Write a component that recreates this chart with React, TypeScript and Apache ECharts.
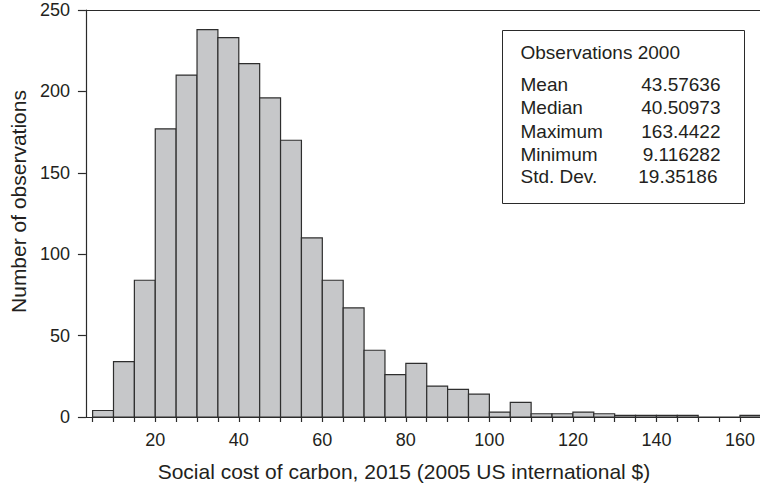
import React, { useEffect, useRef } from "react";
import * as echarts from "echarts";

const binStarts = [5, 10, 15, 20, 25, 30, 35, 40, 45, 50, 55, 60, 65, 70, 75, 80, 85, 90, 95, 100, 105, 110, 115, 120, 125, 130, 135, 140, 145, 150, 155, 160];
const counts = [4, 34, 84, 177, 210, 238, 233, 217, 196, 170, 110, 84, 67, 41, 26, 33, 19, 17, 14, 3, 9, 2, 2, 3, 2, 1, 1, 1, 1, 0, 0, 1];
const binWidth = 5;
const xTickValues = [5, 10, 15, 20, 25, 30, 35, 40, 45, 50, 55, 60, 65, 70, 75, 80, 85, 90, 95, 100, 105, 110, 115, 120, 125, 130, 135, 140, 145, 150, 155, 160];
const xLabelValues = [20, 40, 60, 80, 100, 120, 140, 160];
const statLabels = ["Mean", "Median", "Maximum", "Minimum", "Std. Dev."];
const statValues = ["43.57636", "40.50973", "163.4422", "9.116282", "19.35186"];
const observationsText = "Observations 2000";

const TEXT = "#231f20";
const LINE = "#2a2a2a";
const FONT = "'Liberation Sans', Arial, sans-serif";

export default function App() {
  const ref = useRef<HTMLDivElement>(null);
  useEffect(() => {
    if (!ref.current) return;
    const chart = echarts.init(ref.current, undefined, { renderer: "svg" });
    const data = binStarts.map((s, i) => [s, s + binWidth, counts[i]]);
    const rowYs = [84, 107.3, 131, 154, 176.7];
    const graphicEls: any[] = [
      {
        type: "rect",
        shape: { x: 502.5, y: 30.5, width: 242, height: 173 },
        style: { fill: "#fff", stroke: LINE, lineWidth: 1 },
        z: 10,
      },
      {
        type: "text",
        x: 520.5,
        y: 52.5,
        style: { text: observationsText, fill: TEXT, font: `19px ${FONT}`, textVerticalAlign: "middle", textAlign: "left" },
        z: 11,
      },
    ];
    statLabels.forEach((lab, i) => {
      graphicEls.push({
        type: "text",
        x: 520.5,
        y: rowYs[i],
        style: { text: lab, fill: TEXT, font: `19px ${FONT}`, textVerticalAlign: "middle", textAlign: "left" },
        z: 11,
      });
      graphicEls.push({
        type: "text",
        x: i === 4 ? 717.5 : 720.5,
        y: rowYs[i],
        style: { text: statValues[i], fill: TEXT, font: `19px ${FONT}`, textVerticalAlign: "middle", textAlign: "right" },
        z: 11,
      });
    });
    chart.setOption({
      animation: false,
      backgroundColor: "#fff",
      grid: { left: 82, right: 0, top: 10, bottom: 67.3, containLabel: false },
      xAxis: [
        {
          type: "value",
          min: 3.4,
          max: 164.8,
          position: "bottom",
          name: "Social cost of carbon, 2015 (2005 US international $)",
          nameLocation: "middle",
          nameGap: 44,
          nameTextStyle: { color: TEXT, fontSize: 21, fontFamily: FONT, padding: [0, 38, 0, 0] },
          axisLine: { show: true, lineStyle: { color: LINE, width: 1.2 } },
          axisTick: { show: true, length: 5, customValues: xTickValues, lineStyle: { color: LINE, width: 1.2 } },
          axisLabel: { show: true, customValues: xLabelValues, margin: 14, color: TEXT, fontSize: 18, fontFamily: FONT },
          splitLine: { show: false },
        },
        {
          type: "value",
          min: 3.4,
          max: 164.8,
          position: "top",
          axisLine: { show: true, lineStyle: { color: LINE, width: 1.2 } },
          axisTick: { show: false },
          axisLabel: { show: false },
          splitLine: { show: false },
        },
      ],
      yAxis: {
        type: "value",
        min: 0,
        max: 250,
        interval: 50,
        name: "Number of observations",
        nameLocation: "middle",
        nameGap: 56,
        nameTextStyle: { color: TEXT, fontSize: 21, fontFamily: FONT, padding: [0, 0, 0, 24] },
        axisLine: { show: true, lineStyle: { color: LINE, width: 1.2 } },
        axisTick: { show: true, length: 8, lineStyle: { color: LINE, width: 1.2 } },
        axisLabel: { margin: 16, color: TEXT, fontSize: 18, fontFamily: FONT },
        splitLine: { show: false },
      },
      series: [
        {
          type: "custom",
          xAxisIndex: 0,
          encode: { x: [0, 1], y: 2 },
          data,
          renderItem: (params: any, api: any) => {
            const p0 = api.coord([api.value(0), 0]);
            const p1 = api.coord([api.value(1), api.value(2)]);
            return {
              type: "rect",
              shape: { x: p0[0], y: p1[1], width: p1[0] - p0[0], height: p0[1] - p1[1] },
              style: { fill: "#c6c7c9", stroke: "#2e2e2e", lineWidth: 1.2 },
            };
          },
        },
      ],
      graphic: graphicEls,
    });
    return () => chart.dispose();
  }, []);
  return (
    <div
      ref={ref}
      style={{ position: "fixed", left: 0, top: 0, width: 760, height: 487 }}
    />
  );
}
